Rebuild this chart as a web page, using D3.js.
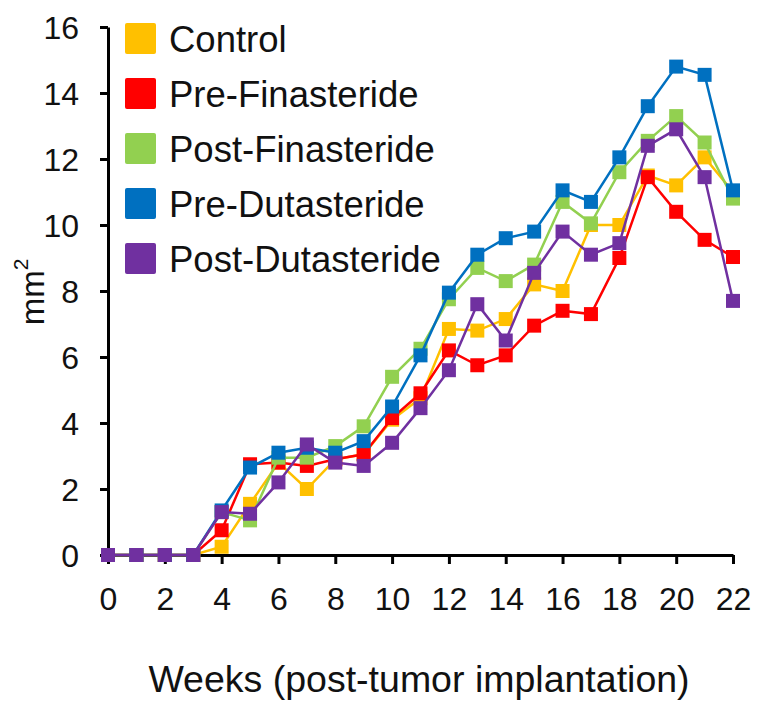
<!DOCTYPE html>
<html>
<head>
<meta charset="utf-8">
<script src="https://cdn.jsdelivr.net/npm/d3@7"></script>
<style>
  body { margin: 0; background: #fff; }
  text { font-family: Arial, "Liberation Sans", sans-serif; fill: #111; }
</style>
</head>
<body>
<div class="chart"></div>
<script>
'use strict';

// Data
const weeks = d3.range(0, 23);
const seriesNames = ['Control', 'Pre-Finasteride', 'Post-Finasteride', 'Pre-Dutasteride', 'Post-Dutasteride'];
const seriesColors = ['#FFC000', '#FF0000', '#92D050', '#0070C0', '#7030A0'];

const control  = [0, 0, 0, 0, 0.25, 1.55, 2.8, 2.0, 2.9, 3.05, 4.1, 4.75, 6.85, 6.8, 7.15, 8.2, 8.0, 10.0, 10.0, 11.5, 11.2, 12.05, 11.0];
const preFin   = [0, 0, 0, 0, 0.75, 2.75, 2.8, 2.7, 2.9, 3.05, 4.15, 4.9, 6.2, 5.75, 6.05, 6.95, 7.4, 7.3, 9.0, 11.45, 10.4, 9.55, 9.03];
const postFin  = [0, 0, 0, 0, 1.3, 1.05, 2.95, 2.95, 3.3, 3.9, 5.4, 6.25, 7.75, 8.7, 8.3, 8.8, 10.7, 10.05, 11.6, 12.55, 13.3, 12.5, 10.8];
const preDut   = [0, 0, 0, 0, 1.35, 2.65, 3.1, 3.25, 3.1, 3.45, 4.5, 6.05, 7.95, 9.1, 9.6, 9.8, 11.05, 10.7, 12.05, 13.6, 14.8, 14.55, 11.05];
const postDut  = [0, 0, 0, 0, 1.3, 1.25, 2.2, 3.35, 2.8, 2.7, 3.4, 4.45, 5.6, 7.6, 6.5, 8.55, 9.8, 9.1, 9.45, 12.4, 12.9, 11.45, 7.7];

const xTicks = [0, 2, 4, 6, 8, 10, 12, 14, 16, 18, 20, 22];
const yTicks = [0, 2, 4, 6, 8, 10, 12, 14, 16];

const allSeries = [control, preFin, postFin, preDut, postDut];

// Initialize
const w = 764;
const h = 707;

const svg = d3.select('.chart')
              .append('svg')
              .attr('width', w)
              .attr('height', h);

// Scales
const xScale = d3.scaleLinear()
                .domain([0, 22])
                .range([108, 733]);

const yScale = d3.scaleLinear()
                .domain([0, 16])
                .range([555, 27]);

// Axes
const xAxis = d3.axisBottom(xScale)
                .tickValues(xTicks)
                .tickSize(9)
                .tickSizeOuter(0)
                .tickPadding(23);

const yAxis = d3.axisLeft(yScale)
                .tickValues(yTicks)
                .tickSize(8)
                .tickSizeOuter(0)
                .tickPadding(21);

const gx = svg.append('g')
  .attr('transform', `translate(0, ${yScale(0)})`)
  .call(xAxis);

const gy = svg.append('g')
  .attr('transform', `translate(${xScale(0)}, 0)`)
  .call(yAxis);

[gx, gy].forEach(g => {
  g.select('.domain').attr('stroke', '#000').attr('stroke-width', 3);
  g.selectAll('.tick line').attr('stroke', '#000').attr('stroke-width', 3);
  g.selectAll('.tick text')
    .attr('font-size', 32)
    .attr('font-family', 'Arial, "Liberation Sans", sans-serif')
    .attr('fill', '#111');
});

gy.selectAll('.tick text').attr('dy', '0.36em');

// Lines and markers
const line = d3.line()
  .x((d, i) => xScale(weeks[i]))
  .y(d => yScale(d));

const markerSize = 14;

allSeries.forEach((values, k) => {
  const g = svg.append('g');

  g.append('path')
    .datum(values)
    .attr('d', line)
    .attr('fill', 'none')
    .attr('stroke', seriesColors[k])
    .attr('stroke-width', 2.5);

  g.selectAll('rect')
    .data(values)
    .enter()
    .append('rect')
    .attr('x', (d, i) => xScale(weeks[i]) - markerSize / 2)
    .attr('y', d => yScale(d) - markerSize / 2)
    .attr('width', markerSize)
    .attr('height', markerSize)
    .attr('fill', seriesColors[k]);
});

// Legend
const legend = svg.append('g').attr('transform', 'translate(125, 38)');

seriesNames.forEach((name, k) => {
  const row = legend.append('g').attr('transform', `translate(0, ${k * 55})`);
  row.append('rect')
    .attr('x', 0)
    .attr('y', -15)
    .attr('width', 31)
    .attr('height', 31)
    .attr('rx', 2)
    .attr('fill', seriesColors[k]);
  row.append('text')
    .attr('x', 44)
    .attr('y', 1)
    .attr('dy', '0.36em')
    .attr('font-size', 36.5)
    .text(name);
});

// Axis titles
svg.append('text')
  .attr('x', 419)
  .attr('y', 692)
  .attr('text-anchor', 'middle')
  .attr('font-size', 37.5)
  .text('Weeks (post-tumor implantation)');

const yTitle = svg.append('text')
  .attr('transform', 'translate(44, 292) rotate(-90)')
  .attr('text-anchor', 'middle')
  .attr('font-size', 33);

yTitle.append('tspan').text('mm');
yTitle.append('tspan')
  .attr('font-size', 21)
  .attr('dy', '-0.75em')
  .text('2');
</script>
</body>
</html>
